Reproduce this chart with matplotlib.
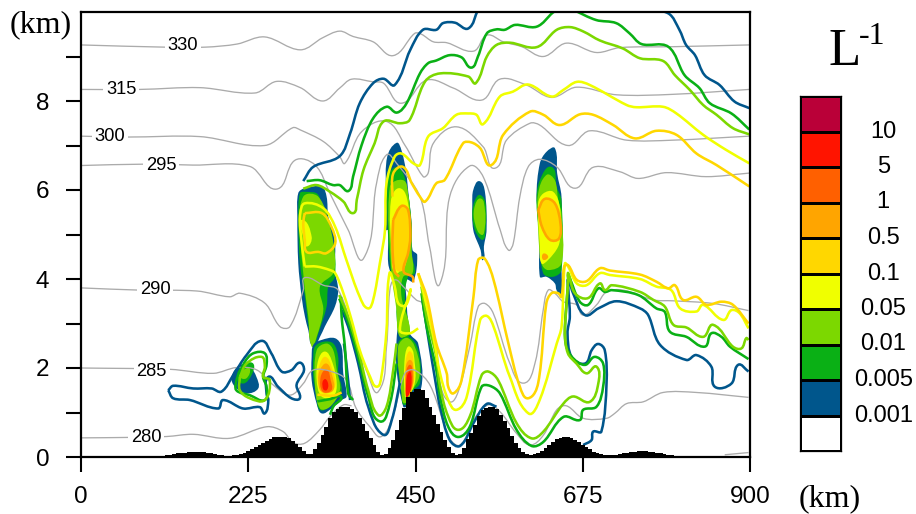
import matplotlib
matplotlib.use("Agg")
import matplotlib.pyplot as plt
from matplotlib.path import Path
from matplotlib.patches import PathPatch
import numpy as np

# ---------- category data ----------
COLORS = ["#FFFFFF", "#00568C", "#0AB015", "#7CD800", "#F0FF00", "#FFD700", "#FFA500", "#FF6000", "#FF1400", "#BA0038"]
LEVEL_LABELS = ["0.001", "0.005", "0.01", "0.05", "0.1", "0.5", "1", "5", "10"]
BLUE, GREEN, LIGHT, YELLOW, GOLD, ORANGE, DORANGE, RED = COLORS[1:9]
GRAY = "#ABABAB"

# ---------- terrain (km), every 5 km ----------
terrain_x = list(range(0, 905, 5))
terrain_z = [0] * 20 + [
    .01, .02, .03, .04, .05, .06, .08, .09, .10, .11, .12, .12, .12, .11, .10, .08, .06, .05, .04, .03,
    .03, .04, .05, .07, .09, .13, .17, .22, .27, .32, .37, .41, .44, .45, .46, .44, .42, .36, .30, .22,
    .13, .07, .06, .17, .32, .50, .68, .87, 1.0, 1.08, 1.12, 1.13, 1.13, 1.08, 1.0, .88, .75, .58, .42, .27,
    .12, .05, .07, .20, .38, .60, .83, 1.10, 1.35, 1.47, 1.52, 1.53, 1.50, 1.33, 1.13, .94, .75, .56, .38, .22,
    .10, .05, .07, .20, .40, .55, .72, .92, 1.05, 1.10, 1.12, 1.12, 1.08, .95, .82, .65, .47, .32, .20, .12,
    .07, .05, .07, .10, .14, .20, .27, .34, .40, .43, .45, .45, .43, .39, .33, .28, .23, .17, .12, .08,
    .06, .04, .04, .04, .05, .06, .08, .09, .11, .12, .13, .13, .13, .12, .11, .09, .08, .06, .05, .04,
    .03, .03, .02, .02, .02] + [.01] * 16

# ---------- filled cloud regions: (x km, z km) ----------
A_BLUE = [(301,6.04),(324,6.07),(330.4,5.85),(332.7,5.4),(341.6,4.88),(341.6,4.2),(346,3.75),(341.6,3.38),(328,2.93),(321.5,2.7),(312.5,2.48),(305.8,2.85),(301.3,3.15),(296.8,3.6),(292.3,4.35),(291,5.4),(292.3,5.93)]
A_GREEN = [(294.6,5.93),(301.3,5.96),(319.2,5.89),(326,5.33),(339.4,4.8),(341.6,4.05),(332.7,3.83),(330.4,3.38),(319.2,2.78),(312.5,2.55),(305.8,3.0),(301.3,3.6),(294.6,4.35),(292.3,5.4)]
A_LIGHT = [(299,5.85),(319.2,5.85),(335,5.18),(341.6,4.5),(339.4,4.13),(321.5,3.83),(326,3.3),(317,2.7),(310.3,2.48),(305.8,3.15),(301.3,3.75),(294.6,5.1)]
A_YELLOW = [(296.8,5.33),(310.3,4.95),(303.5,4.73),(299,4.95)]

B_BLUE = [(312.5,2.52),(323.7,2.63),(341.6,2.67),(350.6,2.48),(352.8,1.88),(357.3,1.36),(350.6,1.28),(337,1.09),(323.7,.98),(317,1.2),(310.3,1.73),(310.3,2.25)]
B_GREEN = [(314.7,2.48),(326,2.59),(339.4,2.55),(346,2.25),(346,1.88),(350.6,1.5),(341.6,1.28),(335,1.13),(321.5,1.06),(317,1.36),(312.5,1.8),(312.5,2.25)]
B_LIGHT = [(317,2.4),(330.4,2.55),(339.4,2.4),(344,1.96),(348.3,1.5),(335,1.13),(321.5,1.09),(314.7,1.66)]
B_YELLOW = [(319.2,2.18),(328,2.37),(337,2.18),(344,1.66),(339.4,1.36),(323.7,1.36),(317,1.73)]
B_GOLD = [(321.5,2.1),(329,2.25),(337,2.03),(341.6,1.58),(326,1.43),(318.3,1.73)]
B_ORANGE = [(321.5,1.96),(330.4,2.1),(337,1.88),(339.4,1.5),(323.7,1.47),(319.2,1.73)]
B_DORANGE = [(322.4,1.8),(330.4,1.96),(335.8,1.73),(337,1.5),(325,1.47)]
B_RED = [(325,1.69),(329,1.75),(332.7,1.62),(330.4,1.5),(326,1.52)]

C_BLUE = [(412,6.75),(424.5,7.06),(431,6.9),(437,6.45),(440,6.0),(444.7,5.25),(446,4.65),(452.3,4.54),(447,3.94),(438,3.98),(438,3.53),(442.4,2.78),(453.6,2.55),(458,1.58),(438,1.13),(433.5,1.13),(424.5,1.96),(424.5,2.63),(429,3.53),(420,3.98),(413.3,4.35),(413.3,5.1),(410,5.1),(410,6.0)]
C_GREEN = [(413.3,6.3),(424.5,6.52),(433.5,6.37),(440,5.92),(444.7,5.25),(444.7,4.57),(449,4.13),(440,4.05),(435.7,3.53),(442.4,2.85),(440,2.7),(429,2.78),(424.5,3.15),(424.5,3.6),(417.8,4.05),(413.3,4.88)]
C_LIGHT = [(415.5,6.07),(433.5,6.22),(440,5.92),(444.7,5.1),(444.7,4.65),(446,4.13),(433.5,4.05),(431.2,3.6),(442.4,2.82),(429,2.7),(424.5,3.3),(417.8,4.13)]
C_YELLOW = [(417,5.775),(429,6.04),(440,5.7),(442.4,4.95),(440,4.58),(433.5,4.28),(422.3,4.13),(417.8,4.58)]
C_GOLD = [(419,5.33),(431,5.62),(442.4,5.4),(443.3,4.95),(440,4.58),(433.5,4.2),(424.5,4.2),(419,4.73)]

C2_GREEN = [(426.7,2.55),(440,2.7),(453.6,2.4),(456,1.66),(444.7,1.47),(435.7,1.17),(431.2,1.43)]
C2_LIGHT = [(426.7,2.48),(440,2.67),(453.6,2.25),(455,1.8),(444.7,1.47),(435.7,1.21),(431.2,1.43)]
C2_YELLOW = [(435.7,2.25),(442.4,2.48),(449,2.1),(449,1.66),(440,1.36),(435.7,1.36)]
C2_GOLD = [(437,2.18),(443.3,2.37),(447.8,2.03),(447.8,1.69),(440,1.39),(437,1.36)]
C2_ORANGE = [(437,2.03),(443.3,2.18),(447,1.96),(447,1.66),(440,1.39)]
C2_DORANGE = [(438,1.96),(443.3,2.07),(446,1.88),(445.5,1.62),(440,1.39),(437,1.39)]
C2_RED = [(438.8,1.84),(443.3,1.92),(444.2,1.58),(440,1.36),(437,1.36)]

D_BLUE = [(535.8,6.2),(543.4,5.96),(545.6,5.1),(542,4.73),(541,4.43),(537.6,4.65),(527.7,5.1),(526.4,5.7),(527.7,6.0)]
D_GREEN = [(530,5.77),(536.7,5.89),(544.3,5.7),(543.4,4.95),(539,4.88),(530,5.1),(526.4,5.47)]
D_LIGHT = [(529,5.59),(537.6,5.81),(543.4,5.55),(543.4,5.18),(539,4.99),(530,5.25)]

E_BLUE = [(626.3,6.86),(637.5,6.94),(640.6,6.37),(646.4,5.85),(646.4,4.2),(646.4,3.6),(639.7,3.75),(637.5,3.9),(626.3,4.05),(617.3,4.05),(617.3,5.1),(612.8,5.85),(617.3,6.6)]
E_GREEN = [(617.3,6.22),(633,6.52),(639.7,6.07),(646.4,5.77),(646.4,4.2),(635.2,4.05),(621.8,4.13),(618.2,4.8),(612.8,5.7)]
E_LIGHT = [(615,5.92),(626.3,6.34),(637.5,6.22),(642,5.77),(646.4,5.47),(646.4,4.35),(628.5,4.2),(619.5,4.35),(615,5.1)]
E_YELLOW = [(615,5.7),(621.8,5.92),(635.2,5.96),(644.2,5.62),(645,5.03),(642,4.73),(628.5,4.43),(619.5,4.35),(617.3,4.73)]
E_GOLD = [(615,5.55),(624,5.8),(637.5,5.7),(645,5.25),(643,4.91),(631,4.88),(620,5.18)]
E_SPOT = [(621.8,4.57),(628.5,4.5),(621.8,4.43)]

F_BLUE = [(202.5,1.8),(213.7,2.07),(227,2.03),(236,1.8),(238.4,1.54),(222.7,1.43),(207,1.58)]
F_GREEN = [(209.3,1.8),(218.2,2.07),(231.7,2.1),(229.4,1.84),(218.2,1.65)]
F_LIGHT = [(213.7,1.8),(218.2,1.95),(227,1.99),(222.7,1.77)]

FILLS = [
    (A_BLUE, BLUE), (A_GREEN, GREEN), (A_LIGHT, LIGHT), (A_YELLOW, YELLOW),
    (B_BLUE, BLUE), (B_GREEN, GREEN), (B_LIGHT, LIGHT), (B_YELLOW, YELLOW), (B_GOLD, GOLD),
    (B_ORANGE, ORANGE), (B_DORANGE, DORANGE), (B_RED, RED),
    (C_BLUE, BLUE), (C_GREEN, GREEN), (C_LIGHT, LIGHT), (C_YELLOW, YELLOW), (C_GOLD, GOLD),
    (C2_GREEN, GREEN), (C2_LIGHT, LIGHT), (C2_YELLOW, YELLOW), (C2_GOLD, GOLD),
    (C2_ORANGE, ORANGE), (C2_DORANGE, DORANGE), (C2_RED, RED),
    (D_BLUE, BLUE), (D_GREEN, GREEN), (D_LIGHT, LIGHT),
    (E_BLUE, BLUE), (E_GREEN, GREEN), (E_LIGHT, LIGHT), (E_YELLOW, YELLOW), (E_GOLD, GOLD), (E_SPOT, ORANGE),
    (F_BLUE, BLUE), (F_GREEN, GREEN), (F_LIGHT, LIGHT),
]

# ---------- isentropes (K labels) ----------
TH330 = [(0,9.26),(113,9.21),(167,9.21),(210,9.28),(247,9.44),(295,9.15),(325,9.42),(348,9.57),(366,9.45),(393,9.33),(420,9.02),(449,9.52),(458,9.5),(474,9.33),(492,9.31),(528,9.12),(546,9.48),(568,9.33),(593,9.22),(622,9.0),(653,9.3),(693,9.09),(725,9.2),(796,9.22),(899,9.26)]
TH315 = [(0,8.26),(79,8.26),(160,8.3),(234,8.18),(263,8.44),(295,8.3),(325,8.0),(348,8.29),(364,8.49),(393,8.43),(407,8.4),(431,7.95),(465,8.47),(501,8.29),(539,8.02),(563.4,8.49),(599,8.36),(633,8.08),(666.5,8.31),(720,8.14),(796.4,8.15),(899,8.26)]
TH300 = [(0,7.21),(63,7.19),(160,7.2),(247,7.0),(285,7.4),(295,7.35),(326,7.09),(348,6.75),(355,6.6),(377.5,7.31),(411,7.54),(436,7.0),(460.4,6.3),(467,6.38),(474,7.05),(505,7.42),(541,6.97),(557,6.49),(572.4,7.12),(604,7.5),(617,7.46),(655,7.0),(684.4,7.33),(734,7.12),(796.4,7.12),(899,7.21)]
TH295 = [(0,6.55),(83,6.58),(150,6.56),(227,6.53),(263,6.02),(288,6.67),(315,6.56),(335,5.92),(359.5,5.1),(380,4.46),(397.6,6.15),(411,6.79),(424.5,6.6),(456,5.85),(469,4.72),(483,3.9),(496,5.85),(523,6.54),(541,6.3),(564,5.1),(575,4.65),(581.5,4.8),(590.4,5.85),(601.6,6.52),(617,6.69),(640,6.52),(664.4,6.04),(689,6.51),(725,6.41),(749.4,6.26),(787.4,6.39),(841,6.3),(899,6.38)]
TH290 = [(0,3.8),(79,3.75),(156,3.73),(200,3.6),(214,3.68),(247,3.46),(267.7,2.93),(281,2.93),(299,3.75),(301,4.03),(326,3.86),(346,3.75),(370,2.6),(385,1.9),(400,1.47),(411,2.48),(415.5,3.75),(422,3.98),(433.5,3.83),(451,3.53),(460,3.45),(478,2.48),(483,1.66),(496,1.24),(507.5,1.47),(523,2.48),(534.4,3.38),(543.4,3.45),(554.6,3.23),(577,2.1),(595,1.66),(610.6,2.1),(621.8,3.3),(628.5,3.75),(637.5,3.68),(648.8,3.49),(666.7,3.42),(675.6,3.19),(693.6,3.42),(707,3.71),(729.4,3.75),(770,3.53),(796.6,3.51),(850.4,3.45),(898,3.29)]
TH285 = [(0,2.0),(120,1.97),(178,1.88),(209,2.01),(236,1.96),(258.5,1.62),(281,1.39),(299,1.65),(312,1.95),(337,1.92),(357,1.73),(370,1.1),(388.7,.68),(404,.46),(420,.95),(435.7,1.88),(449,1.95),(470,1.6),(496,.42),(510,.27),(528,.83),(548,1.17),(563.5,1.02),(586,.53),(604,.27),(622,.49),(640,1.06),(653,1.15),(675.6,.87),(707,.87),(718,.98),(734,1.2),(756.3,1.24),(783,1.45),(828,1.45),(898,1.34)]
TH280 = [(0,.43),(64,.44),(115,.46),(151,.51),(200,.42),(250,.68),(272,.57),(285.6,.32),(301,.31),(321,.61),(335,.91),(353,1.17),(364,1.15)]
TH280_R = [(866,.05),(898,.1)]
ISENTROPES = [TH330, TH315, TH300, TH295, TH290, TH285, TH280, TH280_R]

LABEL_TEXT = ["330", "315", "300", "295", "290", "285", "280"]
LABEL_X = [137, 54, 39, 108, 100, 95, 88]
LABEL_Z = [9.25, 8.26, 7.2, 6.56, 3.77, 1.93, .43]

# ---------- contour lines ----------
BLUE_TOP = [(299,6.2),(312.5,6.52),(348,6.76),(362,7.27),(375,7.95),(393,8.4),(407,8.5),(422,8.36),(443,9.15),(460,9.6),(478,9.6),(487,9.75),(503,9.76),(521,9.63),(534,10.05)]
BLUE_TOP_R = [(758,10.05),(790,9.97),(805,9.6),(814,9.26),(826,9.03),(839,8.58),(859,8.36),(879,7.99),(899,7.84)]
GREEN_TOP = [(303.5,6.2),(321,6.22),(339,6.11),(348,6.11),(360,5.98),(366,6.3),(377.5,7.01),(393,7.61),(411,7.87),(425,7.74),(438,7.95),(456,8.62),(467,8.85),(478,8.91),(496,9.03),(512,8.98),(525,8.75),(534,9.0),(546,9.52),(559,9.61),(570,9.6),(584,9.71),(613,9.67),(635,9.99),(642,10.05)]
GREEN_TOP_R = [(662,10.05),(693,9.82),(720,9.75),(738,9.52),(754,9.28),(790,9.22),(812,8.58),(832,8.29),(846,7.95),(875,7.72),(899,7.36)]
LIGHT_TOP = [(299,6.03),(317,6.11),(335,5.96),(353,5.74),(366,5.48),(371,5.78),(380,6.45),(395,7.05),(407,7.54),(429,7.5),(442,7.57),(463,8.44),(483,8.62),(521,8.55),(531,8.4),(546,9.0),(559,9.26),(577,9.31),(613,9.21),(640,9.6),(658,9.66),(676,9.56),(698,9.36),(729,9.18),(752,8.96),(783,8.9),(799,8.58),(819,8.25),(837,7.91),(855,7.69),(877,7.39),(899,7.25)]
YELLOW_TOP = [(301,4.28),(295,5.1),(295,5.48),(301,5.7),(326,5.59),(342,5.17),(357,4.43),(375,3.6),(386,3.34),(393,3.53),(402,4.35),(409,5.1),(411,6.15),(422,6.75),(431,6.82),(447,6.6),(456,6.56),(467,7.2),(487,7.39),(505,7.69),(521,7.72),(532,7.69),(541,7.48),(563.5,8.1),(581,8.21),(601.5,8.37),(633,8.1),(649,8.25),(667,8.43),(684.4,8.36),(734,7.91),(747,7.86),(783,7.87),(801,7.72),(837,7.24),(868,6.9),(899,6.6)]
YELLOW_MID = [(301,4.28),(317,4.28),(335,4.2),(342,4.13),(353,3.68),(364,3.08),(375,2.4),(389,1.8),(398,1.58),(404,1.8),(411,2.85),(415,4.13),(422,3.83),(427,3.45),(437,3.41),(443,3.75),(429,2.85),(442,2.78),(453.6,2.89)]
YELLOW_R = [(453.6,4.13),(460,3.75),(474,2.7),(483,1.88),(494,1.28),(505,1.06),(519,1.36),(537,3.08),(546,3.17),(555,2.93),(577,1.8),(602,.98),(617,1.28),(640,2.55),(646.5,2.93),(651,4.35),(655.4,4.28),(667,3.9),(680,3.86),(698,4.13),(711.5,4.09),(752,4.0),(774,3.83),(794,3.75),(806,3.34),(828,3.27),(837,3.42),(864,3.08),(875,3.3),(886,3.23),(898,2.89)]
GOLD_TOP = [(419,5.85),(420,6.37),(433,6.52),(445,6.15),(456,5.85),(463,5.74),(478,6.15),(489.5,6.23),(514,7.05),(525,7.07),(537,6.94),(552,6.56),(568,7.24),(604,7.76),(622,7.69),(644,7.46),(671,7.7),(689,7.69),(716,7.46),(745,7.16),(774,7.33),(801,7.24),(828,6.82),(855,6.56),(899,6.08)]
GOLD_A = [(301,5.48),(324,5.48),(337,5.17),(342,4.8),(330,4.58),(319,4.61),(303.5,4.61),(301,4.88),(299,5.25),(301,5.48)]
GOLD_C = [(420,5.33),(431,5.64),(440,5.55),(443,4.95),(440,4.58),(434,4.17),(446,4.05),(447,3.92)]
GOLD_C2 = [(420,5.33),(419,4.73),(422,4.17),(428,4.05)]
GOLD_R = [(453.6,4.13),(465,3.6),(478,2.55),(492,1.88),(494,1.58),(501,1.43),(512,1.73),(528,3.6),(534.4,4.43),(543,4.46),(555,3.98),(575,2.55),(590.4,1.58),(601.6,1.32),(615,1.66),(626,3.45),(633,3.68),(642,3.68),(646.5,3.6),(650,4.28),(655.4,4.31),(667,3.98),(680,3.95),(698,4.24),(711.5,4.19),(752,4.1),(774,3.94),(790,3.79),(799,3.86),(810,3.53),(828,3.6),(841.4,3.42),(861.6,3.49),(877,3.42),(898,3.0)]
GOLD_E = [(615,5.55),(624,5.8),(637.5,5.7),(645,5.25),(643,4.91),(631,4.88),(620,5.18),(615,5.55)]
LIGHT_V1 = [(347.4,3.64),(359.5,3.15),(373,2.4),(386.4,1.5),(400,.94),(411,1.13),(420,1.95),(424.5,2.55)]
GREEN_V1 = [(347.4,3.56),(359.5,3.04),(373,2.25),(386.4,1.36),(402,.8),(415.5,1.2),(424.5,2.1)]
BLUE_V1 = [(350.6,3.3),(359.5,2.93),(373,2.1),(386.4,1.13),(406.6,.5),(418,.83),(429,1.66)]
GREEN_L1 = [(349.7,3.6),(350.6,3.15),(355,2.48),(359.5,1.43),(366,1.28)]
BLUE_L1 = [(353.7,2.55),(357,2.1),(362,1.28)]
GOLD_B = [(318,1.4),(340,1.38),(350.6,1.45)]
GREEN_B = [(318,1.25),(335,1.3),(350,1.35),(340,1.15),(335,.95)]
LIGHT_R = [(458,3.83),(465,3.15),(478,2.25),(483,1.58),(494,.91),(507.5,.61),(523,.91),(539,1.84),(548,1.92),(561,1.73),(586,.76),(606,.42),(622,.57),(649,1.2),(662,1.36),(684.5,1.24),(696,1.66),(693.5,2.03),(680,1.88),(666.6,2.1),(655,2.33),(651,2.78),(653,3.38),(655.4,3.98),(655.5,4.13),(664.4,3.68),(682,3.57),(698,3.9),(705,3.75),(714,3.86),(752,3.71),(770,3.53),(785.4,3.38),(797,2.97),(814.5,2.91),(837,2.7),(850.4,2.97),(877,2.48),(888.4,2.44),(895,2.67),(898,2.63)]
GREEN_R = [(458,3.68),(465,2.93),(478,1.95),(483,1.36),(494,.68),(507.5,.45),(523,.68),(539,1.58),(550,1.6),(563.5,1.43),(586,.61),(606,.25),(622,.34),(649,.9),(671,.83),(675.5,1.06),(693.5,1.13),(702.4,1.58),(702.4,2.1),(691,2.25),(678,2.07),(662,2.22),(653,2.48),(651,2.85),(655.4,3.98),(655.5,4.09),(671,3.49),(682.4,3.42),(696,3.79),(705,3.71),(714,3.75),(749.6,3.64),(774,3.34),(785.4,3.26),(792,2.82),(814.5,2.7),(839,2.48),(848,2.78),(861.6,2.7),(873,2.48),(898,2.2)]
BLUE_R = [(459.4,3.53),(467,2.7),(478,1.58),(483,1.13),(496,.38),(510,.25),(528,.76),(545.6,1.19),(559,1.13)]
BLUE_R2 = [(675.5,.27),(686.8,.38),(689,.57),(700,.57),(707,1.66),(704.6,2.4),(695.7,2.54),(687,2.4),(678,2.1),(660,2.25),(654.5,2.78),(657.6,3.15),(655.4,3.83),(655.5,3.98),(662,3.68),(678,3.19),(696,3.34),(720.4,3.5),(752,3.34),(763,3.19),(779,2.52),(814.5,2.18),(828,2.29),(848,2.03),(852.6,1.58),(875,1.65),(884,2.07),(898,1.92)]
BLUE_LOOP = [(117.4,1.5),(124,1.6),(151,1.54),(175.7,1.54),(189,1.47),(204.8,1.84),(222.7,2.29),(243,2.61),(256,2.33),(270,1.92),(283,1.95),(294.4,2.12),(300,1.95),(290,1.62),(294.4,1.32),(283,1.32),(265,1.58),(252,1.8),(249.6,1.43),(252,1.28),(247.3,.98),(240.6,1.12),(218,1.09),(191,1.28),(184.6,1.09),(146.5,1.28),(124,1.32),(117.4,1.5)]
GREEN_LOOP = [(209,1.73),(220.5,2.14),(231.7,2.33),(247.3,2.33),(249.6,2.07),(245,1.8),(249.6,1.58),(247.3,1.28),(227,1.39),(209,1.5),(209,1.73)]
LIGHT_LOOP = [(213.7,1.8),(222.7,2.1),(243,2.25),(247.3,2.03),(245,1.8),(254,1.73),(247.3,1.28),(227,1.32),(213.7,1.5),(213.7,1.8)]

LINES = [
    (BLUE_TOP, BLUE), (BLUE_TOP_R, BLUE), (BLUE_V1, BLUE), (BLUE_L1, BLUE), (BLUE_R, BLUE), (BLUE_R2, BLUE), (BLUE_LOOP, BLUE),
    (GREEN_TOP, GREEN), (GREEN_TOP_R, GREEN), (GREEN_V1, GREEN), (GREEN_L1, GREEN), (GREEN_B, GREEN), (GREEN_R, GREEN), (GREEN_LOOP, GREEN),
    (LIGHT_TOP, LIGHT), (LIGHT_V1, LIGHT), (LIGHT_R, LIGHT), (LIGHT_LOOP, LIGHT),
    (YELLOW_TOP, YELLOW), (YELLOW_MID, YELLOW), (YELLOW_R, YELLOW),
    (GOLD_TOP, GOLD), (GOLD_A, GOLD), (GOLD_R, GOLD), (GOLD_B, GOLD),
    (GOLD_C, ORANGE), (GOLD_C2, ORANGE), (GOLD_E, ORANGE),
]

# ---------- axis ticks ----------
x_ticks = [0, 225, 450, 675, 900]
y_ticks = list(range(0, 10))
y_tick_labels = ["0", "", "2", "", "4", "", "6", "", "8", ""]

W, H = 916, 514
plt.rcParams["font.family"] = ["Liberation Sans", "DejaVu Sans"]
SERIF = ["Liberation Serif", "DejaVu Serif"]
fig = plt.figure(figsize=(W / 100, H / 100), dpi=100)
ax = fig.add_axes([81 / W, 1 - 457 / H, (750 - 81) / W, (457 - 12) / H])
ax.set_xlim(0, 900)
ax.set_ylim(0, 10)


def curve_path(points, closed=False):
    """Bezier path through the read points; control handles are bounded by segment length."""
    p = np.array(points, dtype=float)
    scale = np.array([669 / 900, 44.5])
    s = p * scale
    if closed:
        s_ext = np.vstack([s[-1], s, s[0], s[1]])
    else:
        s_ext = np.vstack([s[0], s, s[-1]])
    tang = s_ext[2:] - s_ext[:-2]
    norm = np.linalg.norm(tang, axis=1, keepdims=True)
    norm[norm == 0] = 1
    tang = tang / norm
    n_seg = len(s) if closed else len(s) - 1
    verts = [s[0]]
    codes = [Path.MOVETO]
    for i in range(n_seg):
        j = (i + 1) % len(s)
        seg = np.linalg.norm(s[j] - s[i])
        verts += [s[i] + tang[i] * seg / 3, s[j] - tang[j] * seg / 3, s[j]]
        codes += [Path.CURVE4] * 3
    return Path(np.array(verts) / scale, codes)


for poly, col in FILLS:
    ax.add_patch(PathPatch(curve_path(poly, closed=True), fc=col, ec="none", lw=0, zorder=2))

for line in ISENTROPES:
    ax.add_patch(PathPatch(curve_path(line), fc="none", ec=GRAY, lw=0.95, zorder=3))

for line, col in LINES:
    ax.add_patch(PathPatch(curve_path(line), fc="none", ec=col, lw=1.85, zorder=4, joinstyle="round"))

ax.fill_between(terrain_x, 0, terrain_z, step="mid", color="black", lw=0, zorder=5)

for t, lx, lz in zip(LABEL_TEXT, LABEL_X, LABEL_Z):
    ax.text(lx, lz, t, fontsize=13.2, ha="center", va="center", zorder=6,
            bbox=dict(boxstyle="square,pad=0.15", fc="white", ec="none"))

for s in ax.spines.values():
    s.set_linewidth(1.6)
    s.set_zorder(8)
ax.set_xticks(x_ticks)
ax.set_yticks(y_ticks)
ax.set_yticklabels(y_tick_labels)
ax.tick_params(axis="both", length=10.8, width=1.5, labelsize=17.5)
ax.tick_params(axis="x", pad=10)
ax.tick_params(axis="y", pad=12)

fig.text(41 / W, 1 - 25 / H, "(km)", family=SERIF, fontsize=23, ha="center", va="center")
fig.text(830 / W, 1 - 499 / H, "(km)", family=SERIF, fontsize=23, ha="center", va="center")
fig.text(845 / W, 1 - 52 / H, "L", family=SERIF, fontsize=38, ha="center", va="center")
fig.text(872 / W, 1 - 37 / H, "-1", family=SERIF, fontsize=23, ha="center", va="center")

# colour bar
cax = fig.add_axes([800 / W, 1 - 451 / H, 41 / W, 355 / H])
cax.pcolormesh([0, 1], np.arange(len(COLORS) + 1), np.arange(len(COLORS))[:, None],
               cmap=matplotlib.colors.ListedColormap(COLORS), edgecolors="black", linewidth=0.9)
cax.set_xlim(0, 1)
cax.set_ylim(0, len(COLORS))
cax.set_xticks([])
cax.set_yticks([])
for s in cax.spines.values():
    s.set_linewidth(0.9)
for i, lab in enumerate(LEVEL_LABELS):
    cax.text(2.03, i + 1, lab, fontsize=17, ha="center", va="center")

fig.savefig("out.png", dpi=100)
